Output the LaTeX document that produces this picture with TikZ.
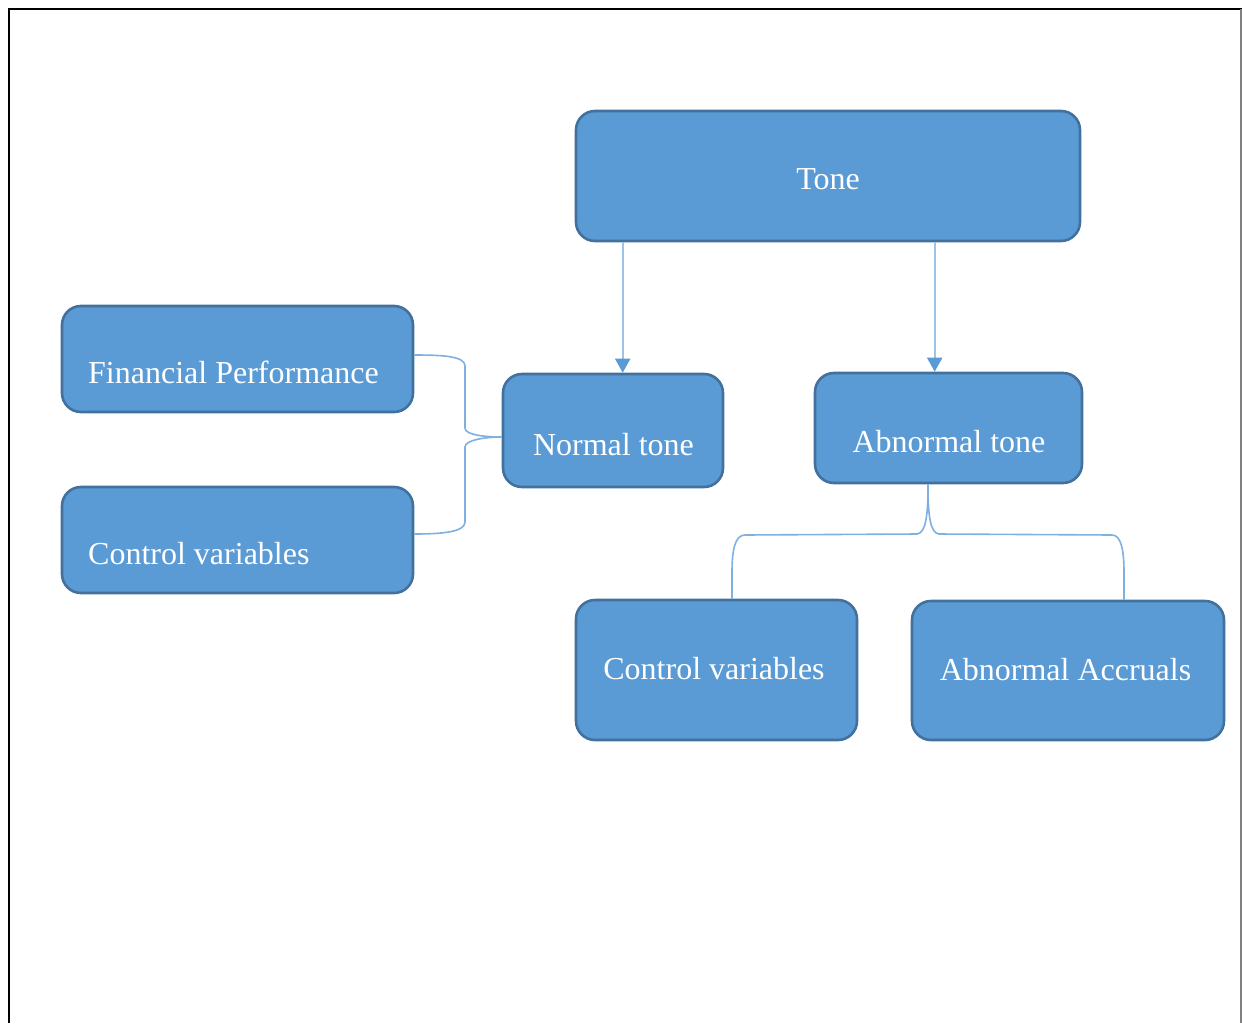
\documentclass[tikz,border=0pt]{standalone}
\usepackage{fontspec}
\setmainfont{Liberation Serif}
\usetikzlibrary{arrows.meta,calc}
\definecolor{boxfill}{HTML}{5B9BD5}
\definecolor{boxline}{HTML}{41719C}
\definecolor{arrline}{HTML}{9DC3E6}
\definecolor{brline}{HTML}{7FB0E2}
\begin{document}
\begin{tikzpicture}[x=1pt,y=-1pt,
  box/.style={draw=boxline,fill=boxfill,line width=2.6pt,rounded corners=19pt,inner sep=0pt},
  txt/.style={text=white,font=\fontsize{32}{38}\selectfont,inner sep=0pt},
  arr/.style={draw=arrline,line width=2pt,-{Triangle[width=15pt,length=14pt,color=boxfill]}},
  brace/.style={draw=brline,line width=1.6pt}]
\useasboundingbox (0,0) rectangle (1242,1023);
\fill[white] (0,0) rectangle (1242,1023);
% frame
\draw[line width=2.6pt,black] (9,1023) -- (9,9) -- (1242,9);
\draw[line width=1.4pt,gray] (1241,9) -- (1241,1023);
% boxes
\node[box,minimum width=504pt,minimum height=130pt] (tone) at (828,176) {};
\node[box,minimum width=351pt,minimum height=106pt] (fp) at (237.5,359) {};
\node[box,minimum width=351pt,minimum height=106pt] (cv1) at (237.5,540) {};
\node[box,minimum width=220pt,minimum height=113pt] (nt) at (613,430.5) {};
\node[box,minimum width=267pt,minimum height=110pt] (at) at (948.5,428) {};
\node[box,minimum width=281pt,minimum height=140pt] (cv2) at (716.5,670) {};
\node[box,minimum width=312pt,minimum height=139pt] (aa) at (1068,670.5) {};
% texts
\node[txt,anchor=base] (tonet) at (828,189) {Tone};
\node[txt,anchor=base west] (fpt) at (88,383) {Financial Performance};
\node[txt,anchor=base west] (cv1t) at (88,564) {Control variables};
\node[txt,anchor=base] (ntt) at (613.5,455) {Normal tone};
\node[txt,anchor=base] (att) at (949,452) {Abnormal tone};
\node[txt,anchor=base] (cv2t) at (714,679) {Control variables};
\node[txt,anchor=base] (aat) at (1065.5,680) {Abnormal Accruals};
% arrows
\draw[arr] ($(tone.south west)+(48,0)$) -- ($(nt.north west)+(121,0)$);
\draw[arr] ($(tone.south west)+(360,0)$) -- ($(at.north west)+(121,0)$);
% left brace
\coordinate (tipL) at ($(nt.west)+(0,6.5)$);
\draw[brace] ($(fp.east)+(0,-4)$) .. controls (442,355) and (465,356) .. (465,366)
  -- (465,428) .. controls (465,435) and (485,437) .. (tipL);
\draw[brace] ($(cv1.east)+(0,-6)$) .. controls (442,534) and (465,532) .. (465,522)
  -- (465,447) .. controls (465,440) and (485,437) .. (tipL);
% bottom brace
\coordinate (tipB) at ($(at.south)+(-20.5,0)$);
\draw[brace] (tipB) .. controls (928,515) and (926,533) .. (917,534)
  -- (745,535) .. controls (735,535) and (732,550) .. (732,572) -- ($(cv2.north)+(15.5,0)$);
\draw[brace] (tipB) .. controls (928,515) and (930,533) .. (939,534)
  -- (1112,535) .. controls (1121,535) and (1124,550) .. (1124,572) -- ($(aa.north)+(56,0)$);
\end{tikzpicture}
\end{document}
